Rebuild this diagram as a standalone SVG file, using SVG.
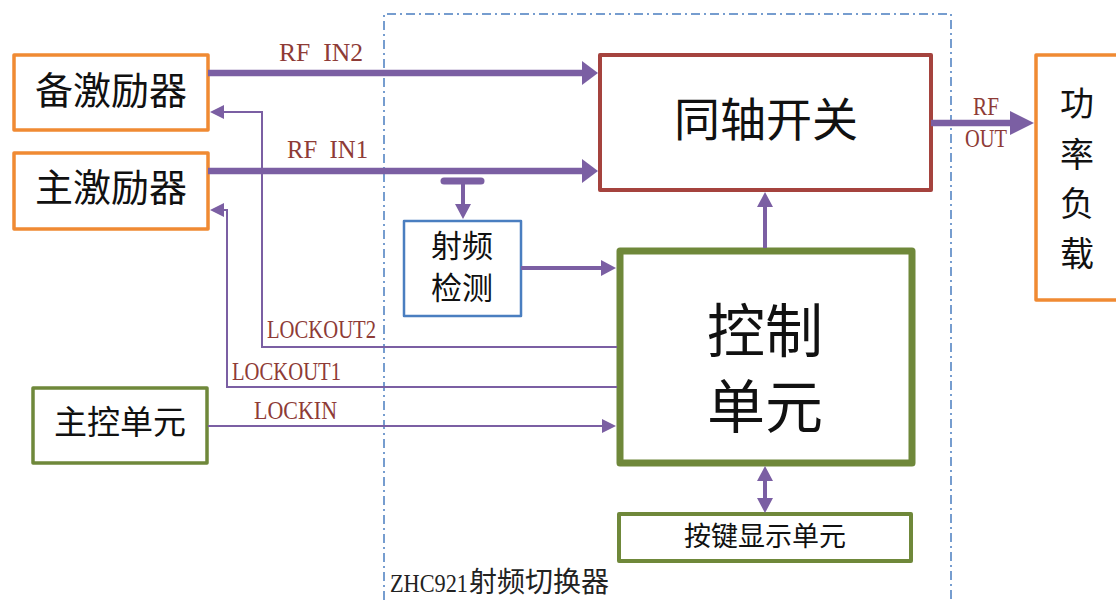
<svg xmlns="http://www.w3.org/2000/svg" width="1116" height="600" viewBox="0 0 1116 600">
<style>
.box{fill:#fff;stroke-linejoin:round}
.orange{stroke:#F08A33;stroke-width:3.5}
.green{stroke:#6F883A}
.cjk{font-family:"Noto Sans CJK SC","Noto Sans CJK JP",sans-serif;fill:#111;text-anchor:middle}
.lbl{font-family:"Liberation Serif",serif;fill:#8E3B36;font-size:25px;white-space:pre}
.thick{stroke:#7B5FA3;stroke-width:6.5;fill:none}
.mid{stroke:#7B5FA3;stroke-width:4;fill:none}
.thin{stroke:#7B5FA3;stroke-width:2;fill:none}
</style>
<defs>
<marker id="aThick" markerUnits="userSpaceOnUse" viewBox="0 0 16 24" markerWidth="16" markerHeight="24" refX="0" refY="12" orient="auto">
<path d="M0,0 L16,12 L0,24 z" fill="#7B5FA3"/>
</marker>
<marker id="aOut" markerUnits="userSpaceOnUse" viewBox="0 0 24 24" markerWidth="24" markerHeight="24" refX="0" refY="12" orient="auto">
<path d="M0,0 L24,12 L0,24 z" fill="#7B5FA3"/>
</marker>
<marker id="aMid" markerUnits="userSpaceOnUse" viewBox="0 0 15 16" markerWidth="15" markerHeight="16" refX="0" refY="8" orient="auto-start-reverse">
<path d="M0,0 L15,8 L0,16 z" fill="#7B5FA3"/>
</marker>
<marker id="aThin" markerUnits="userSpaceOnUse" viewBox="0 0 14 14" markerWidth="14" markerHeight="14" refX="0" refY="7" orient="auto">
<path d="M0,0 L14,7 L0,14 z" fill="#7B5FA3"/>
</marker>
</defs>
<rect width="1116" height="600" fill="#fff"/>

<g id="boundary">
<path d="M384,600 V14 H951 V600" fill="none" stroke="#4A7EC0" stroke-width="1.5" stroke-dasharray="9 4 2 4"/>
<text x="390" y="592" fill="#222"><tspan font-family="Liberation Serif,serif" font-size="25" textLength="78" lengthAdjust="spacingAndGlyphs">ZHC921</tspan><tspan dx="1" font-family="Noto Sans CJK SC,sans-serif" font-size="28">射频切换器</tspan></text>
</g>

<g id="backup-exciter">
<rect class="box orange" x="14" y="55" width="194" height="75"/>
<text class="cjk" x="111" y="104" font-size="38">备激励器</text>
</g>
<g id="main-exciter">
<rect class="box orange" x="14" y="153" width="194" height="76"/>
<text class="cjk" x="111" y="201" font-size="38">主激励器</text>
</g>
<g id="master-control">
<rect class="box green" stroke-width="3.5" x="33" y="388" width="174" height="75"/>
<text class="cjk" x="120" y="434" font-size="33">主控单元</text>
</g>
<g id="coax-switch">
<rect class="box" stroke="#A5433E" stroke-width="4" x="600" y="55" width="331" height="135"/>
<text class="cjk" x="766" y="136" font-size="46">同轴开关</text>
</g>
<g id="power-load">
<rect class="box orange" x="1036" y="55" width="100" height="245"/>
<text class="cjk" x="1077" y="116" font-size="34">功</text>
<text class="cjk" x="1077" y="167" font-size="34">率</text>
<text class="cjk" x="1077" y="216" font-size="34">负</text>
<text class="cjk" x="1077" y="266" font-size="34">载</text>
</g>
<g id="rf-detect">
<rect class="box" stroke="#4A7EC0" stroke-width="2.5" x="404" y="221" width="117" height="95"/>
<text class="cjk" x="462" y="257" font-size="31">射频</text>
<text class="cjk" x="462" y="299" font-size="31">检测</text>
</g>
<g id="control-unit">
<rect class="box green" stroke-width="7" x="620" y="251" width="292" height="212"/>
<text class="cjk" x="765" y="352" font-size="58">控制</text>
<text class="cjk" x="765" y="428" font-size="58">单元</text>
</g>
<g id="key-display">
<rect class="box green" stroke-width="4" x="619" y="514" width="292" height="47"/>
<text class="cjk" x="765" y="546" font-size="27">按键显示单元</text>
</g>

<g id="connectors">
<line class="thick" x1="208" y1="73" x2="582" y2="73" marker-end="url(#aThick)"/>
<line class="thick" x1="208" y1="171" x2="582" y2="171" marker-end="url(#aThick)"/>
<line class="thick" x1="931" y1="123" x2="1010" y2="123" marker-end="url(#aOut)"/>
<line x1="444" y1="181" x2="481" y2="181" stroke="#7B5FA3" stroke-width="7" stroke-linecap="round"/>
<line class="mid" x1="463" y1="181" x2="463" y2="204" marker-end="url(#aMid)"/>
<line class="mid" x1="521" y1="268" x2="601" y2="268" marker-end="url(#aMid)"/>
<line class="mid" x1="765" y1="248" x2="765" y2="207" marker-end="url(#aMid)"/>
<line class="mid" x1="765" y1="481" x2="765" y2="498" marker-start="url(#aMid)" marker-end="url(#aMid)"/>
<path class="thin" d="M617,347 H262 V112 H224" marker-end="url(#aThin)"/>
<path class="thin" d="M617,387 H227 V210 H224" marker-end="url(#aThin)"/>
<line class="thin" x1="208" y1="426" x2="602" y2="426" marker-end="url(#aThin)"/>
<text class="lbl" x="279" y="61" textLength="84" lengthAdjust="spacingAndGlyphs" xml:space="preserve">RF  IN2</text>
<text class="lbl" x="287" y="158" textLength="81" lengthAdjust="spacingAndGlyphs" xml:space="preserve">RF  IN1</text>
<text class="lbl" x="267" y="338" textLength="109" lengthAdjust="spacingAndGlyphs">LOCKOUT2</text>
<text class="lbl" x="232" y="380" textLength="109" lengthAdjust="spacingAndGlyphs">LOCKOUT1</text>
<text class="lbl" x="254" y="419" textLength="83" lengthAdjust="spacingAndGlyphs">LOCKIN</text>
<text class="lbl" x="973" y="115" textLength="26" lengthAdjust="spacingAndGlyphs">RF</text>
<text class="lbl" x="965" y="147" textLength="42" lengthAdjust="spacingAndGlyphs">OUT</text>
</g>
</svg>
